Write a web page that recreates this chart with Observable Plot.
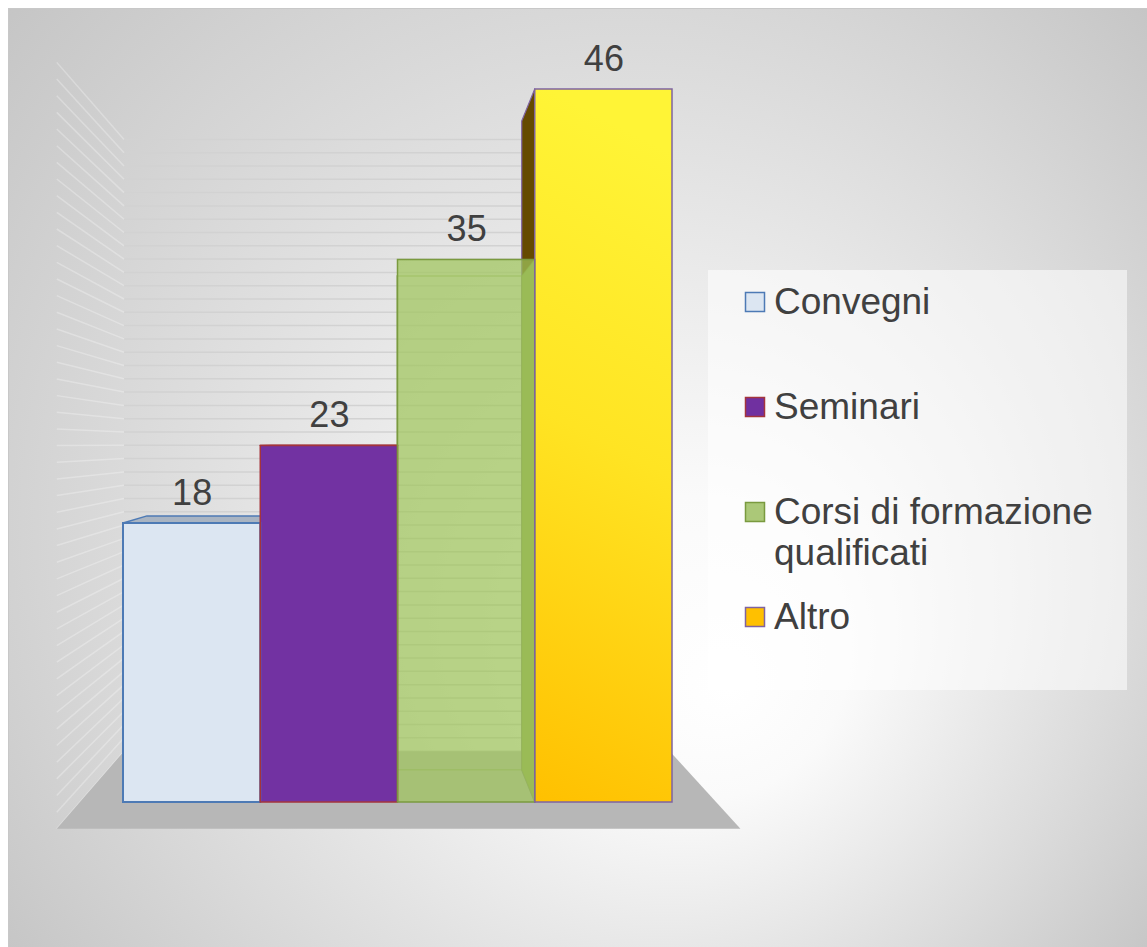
<!DOCTYPE html>
<html><head><meta charset="utf-8">
<script src="https://cdn.jsdelivr.net/npm/d3@7"></script>
<script src="https://cdn.jsdelivr.net/npm/@observablehq/plot@0.6"></script>
<style>html,body{margin:0;padding:0;background:#fff;overflow:hidden}</style>
</head><body><div id="chart"></div>
<script>
// ---- data ----
const categories = ["Convegni", "Seminari", "Corsi di formazione qualificati", "Altro"];
const values = [18, 23, 35, 46];
const legendLines = [["Convegni"], ["Seminari"], ["Corsi di formazione", "qualificati"], ["Altro"]];
const gridValues = [0,1,2,3,4,5,6,7,8,9,10,11,12,13,14,15,16,17,18,19,20,21,22,23,24,25,26,27,28,29,30,31,32,33,34,35,36,37,38,39,40,41,42,43,44,45,46];

// ---- styles ----
const fills = ["#dce6f2", "#7232a2", "rgba(160,197,92,0.72)", "url(#gAltro)"];
const strokes = ["#4d7ab5", "#a4343c", "#7a9a3f", "#7f63a1"];
const legendFills = ["#dce6f2", "#7030a0", "#abc878", "#ffc000"];
const sideFills = ["#9aa9bb", "#4e1f73", "#8ca04a", "#654a00"];
const topFills = ["#a9b4c2", "#5a2784", "#8ca04a", "#b89000"];
const transparentBody = [false, false, true, false];
const FONT = "'Liberation Sans', Arial, sans-serif";
const TEXT = "#404040";

const data = categories.map((c, i) => ({category: c, value: values[i]}));

// perspective model (layout)
const VP = [390, 444];
const S_FLOOR = 1.075, S_BAR_BACK = 0.91, S_WALL = 0.858;
const proj = (px, py, s) => [VP[0] + (px - VP[0]) * s, VP[1] + (py - VP[1]) * s];
const pts = (arr) => arr.map(p => p.join(",")).join(" ");
const bwOf = (x) => (typeof x.bandwidth === "function" ? x.bandwidth() : x.bandwidth);

function background(index, scales, values, dims) {
  const {x, y} = scales;
  const g = d3.create("svg:g");
  const defs = g.append("defs");
  const bg = defs.append("radialGradient").attr("id", "bg").attr("gradientUnits", "userSpaceOnUse")
    .attr("cx", 577).attr("cy", 477).attr("r", 760).attr("fx", 730).attr("fy", 690);
  [[0, "#ffffff"], [0.2, "#fafafa"], [0.55, "#e2e2e2"], [1, "#c4c4c4"]]
    .forEach(([o, c]) => bg.append("stop").attr("offset", o).attr("stop-color", c));
  const ga = defs.append("linearGradient").attr("id", "gAltro")
    .attr("x1", 0.1).attr("y1", 0).attr("x2", 0).attr("y2", 1);
  [[0, "#fff436"], [0.45, "#ffe423"], [1, "#ffc000"]]
    .forEach(([o, c]) => ga.append("stop").attr("offset", o).attr("stop-color", c));

  g.append("rect").attr("x", 8.5).attr("y", 8.5)
    .attr("width", dims.width).attr("height", dims.height)
    .attr("fill", "url(#bg)").attr("stroke", "#c8c8c8");

  const [r0, r1] = x.range();
  const L = r0 - 43, R = r1 + 44;
  // back wall + side wall grid
  for (const v of gridValues) {
    const yy = y(v);
    const a = proj(L, yy, S_WALL), b = proj(R, yy, S_WALL), c = proj(L, yy, S_FLOOR);
    g.append("line").attr("x1", a[0]).attr("y1", a[1]).attr("x2", b[0]).attr("y2", b[1])
      .attr("stroke", "#d2d2d2").attr("stroke-width", 1.5);
    g.append("line").attr("x1", c[0]).attr("y1", c[1]).attr("x2", a[0]).attr("y2", a[1])
      .attr("stroke", "#ffffff").attr("stroke-opacity", 0.28).attr("stroke-width", 1.5);
  }
  // floor
  const y0 = y(0);
  g.append("polygon").attr("points", pts([proj(L, y0, S_FLOOR), proj(R, y0, S_FLOOR), proj(R, y0, S_WALL), proj(L, y0, S_WALL)]))
    .attr("fill", "#b7b7b7");
  return g.node();
}

function barFaces(index, scales) {
  const {x, y} = scales;
  const bw = bwOf(x);
  const g = d3.create("svg:g");
  const y0 = y(0);
  categories.forEach((c, i) => {
    const x0 = x(c), x1 = x0 + bw, yt = y(values[i]);
    if (transparentBody[i]) return;
    if (x0 > VP[0]) {
      g.append("polygon").attr("points", pts([[x0, yt], [x0, y0], proj(x0, y0, S_BAR_BACK), proj(x0, yt, S_BAR_BACK)]))
        .attr("fill", sideFills[i]).attr("stroke", strokes[i]).attr("stroke-width", 1.2).attr("stroke-linejoin", "round");
    }
    if (x1 < VP[0]) {
      g.append("polygon").attr("points", pts([[x1, yt], [x1, y0], proj(x1, y0, S_BAR_BACK), proj(x1, yt, S_BAR_BACK)]))
        .attr("fill", sideFills[i]).attr("stroke", strokes[i]).attr("stroke-width", 1.2);
    }
    if (yt > VP[1]) {
      g.append("polygon").attr("points", pts([[x0, yt], [x1, yt], proj(x1, yt, S_BAR_BACK), proj(x0, yt, S_BAR_BACK)]))
        .attr("fill", topFills[i]).attr("stroke", strokes[i]).attr("stroke-width", 1.5).attr("stroke-linejoin", "round");
    }
  });
  categories.forEach((c, i) => {
    if (!transparentBody[i]) return;
    const x0 = x(c), x1 = x0 + bw, yt = y(values[i]);
    const bl = proj(x0, y0, S_BAR_BACK), br = proj(x1, y0, S_BAR_BACK);
    const tl = proj(x0, yt, S_BAR_BACK), tr = proj(x1, yt, S_BAR_BACK);
    g.append("polygon").attr("points", pts([[x1, yt], [x1, y0], br, tr])).attr("fill", sideFills[i]);
    g.append("polyline").attr("points", pts([bl, tl, tr, br, bl]))
      .attr("fill", "none").attr("stroke", "#7a9a3f").attr("stroke-opacity", 0.45).attr("stroke-width", 1.5);
    g.append("line").attr("x1", x1).attr("y1", yt).attr("x2", tr[0]).attr("y2", tr[1])
      .attr("stroke", "#7a9a3f").attr("stroke-opacity", 0.45).attr("stroke-width", 1.5);
    g.append("line").attr("x1", x1).attr("y1", y0).attr("x2", br[0]).attr("y2", br[1])
      .attr("stroke", "#7a9a3f").attr("stroke-opacity", 0.45).attr("stroke-width", 1.5);
  });
  return g.node();
}

function legend(index, scales) {
  const g = d3.create("svg:g").attr("text-anchor", "start");
  g.append("rect").attr("x", 708).attr("y", 270).attr("width", 419).attr("height", 420)
    .attr("fill", "#ffffff").attr("fill-opacity", 0.55);
  categories.forEach((c, i) => {
    const cy = 302 + i * 105;
    g.append("rect").attr("x", 745.5).attr("y", cy - 9.5).attr("width", 19).attr("height", 19)
      .attr("fill", legendFills[i]).attr("stroke", strokes[i]).attr("stroke-width", 1.5);
    legendLines[i].forEach((t, j) => {
      g.append("text").attr("x", 774).attr("y", cy + 11.5 + j * 41)
        .attr("text-anchor", "start")
        .attr("font-family", FONT).attr("font-size", 37).attr("fill", TEXT).text(t);
    });
  });
  return g.node();
}

const chart = Plot.plot({
  width: 1147,
  height: 947,
  margin: 0,
  style: {background: "white", fontFamily: FONT, overflow: "visible", maxWidth: "none"},
  x: {type: "band", domain: categories, range: [123, 672], padding: 0, round: false, axis: null},
  y: {domain: [0, 46], range: [802, 89], axis: null},
  color: {domain: categories, range: fills},
  marks: [
    background,
    barFaces,
    Plot.barY(data, {x: "category", y: "value", fill: "category"}),
    ...categories.map((c, i) => Plot.barY(data.filter(d => d.category === c),
      {x: "category", y: "value", fill: "none", stroke: strokes[i], strokeWidth: i === 0 ? 2 : 1.5})),
    Plot.text(data, {x: "category", y: "value", text: d => `${d.value}`, dy: -19, lineAnchor: "bottom",
      fontSize: 36, fill: TEXT, fontFamily: FONT}),
    legend
  ]
});
document.getElementById("chart").appendChild(chart);
</script>
</body></html>
